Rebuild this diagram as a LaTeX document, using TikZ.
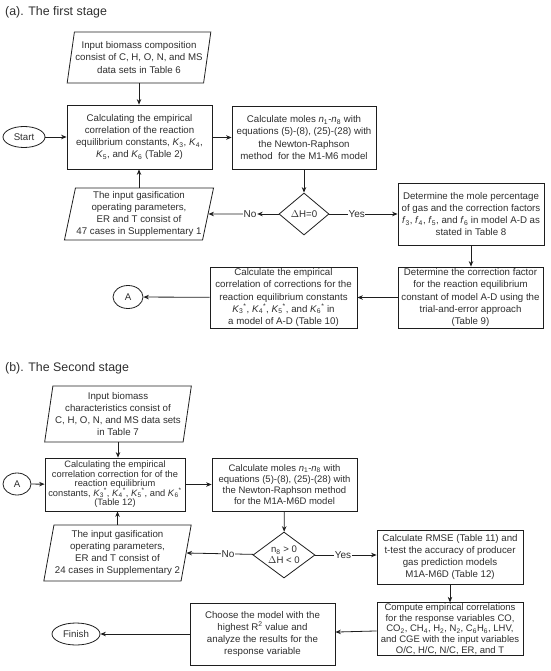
\documentclass[tikz,border=0pt]{standalone}
\usepackage{fontspec}
\setmainfont{Liberation Sans}
\usetikzlibrary{shapes.geometric,arrows.meta}
\definecolor{txt}{HTML}{2E2E2E}
\definecolor{ln}{HTML}{1E1E1E}
\newcommand\Kc[1]{\textit{K}\textsubscript{#1}}
\newcommand\Ks[1]{\textit{K}\textsubscript{#1}\textsuperscript{*}}
\newcommand\fsub[1]{\textit{f}\textsubscript{#1}}
\begin{document}
\begin{tikzpicture}[x=1pt,y=-1pt,
  every node/.style={font=\fontsize{9.7}{12.2}\selectfont, text=txt, align=center, inner sep=1pt},
  sz/.style 2 args={minimum width=#1pt, minimum height=#2pt},
  box/.style={draw=ln, line width=0.8pt, rectangle},
  para/.style={draw=ln, line width=0.8pt, trapezium, trapezium stretches=true, trapezium left angle=#1, trapezium right angle=180-#1},
  term/.style={draw=ln, line width=0.8pt, ellipse, inner sep=0pt},
  dec/.style={draw=ln, line width=0.8pt, diamond, inner sep=0pt},
  arr/.style={draw=ln, line width=0.8pt, -{Stealth[length=5.5pt,width=4.5pt]}},
  lbl/.style={fill=white, inner sep=0.6pt, font=\fontsize{10}{12}\selectfont},
  ttl/.style={font=\fontsize{12.4}{14}\selectfont, anchor=west, inner sep=0pt, text=txt}]
\useasboundingbox (0,0) rectangle (550,671);

% ---------------- Stage (a) ----------------
\node[ttl] (ta) at (5,12) {(a). The first stage};

\node[para=77.8, sz={144}{51}] (pa1) at (139,57.5) {Input biomass composition\\consist of C, H, O, N, and MS\\data sets in Table 6};
\node[box, sz={145}{64}] (ba1) at (139.5,137) {Calculating the empirical\\correlation of the reaction\\equilibrium constants, \Kc{3}, \Kc{4},\\\Kc{5}, and \Kc{6} (Table 2)};
\node[term, sz={42}{21}] (start) at (24,137) {Start};
\node[box, sz={144}{63}] (ba2) at (304,137.5) {Calculate moles \textit{n}\textsubscript{1}-\textit{n}\textsubscript{8} with\\equations (5)-(8), (25)-(28) with\\the Newton-Raphson\\method\ \ for the M1-M6 model};
\node[dec, sz={50}{42}] (da) at (304,214) {$\Delta$H=0};
\node[box, sz={146}{62}] (ra1) at (471,214) {Determine the mole percentage\\of gas and the correction factors\\\fsub{3}, \fsub{4}, \fsub{5}, and \fsub{6} in model A-D as\\stated in Table 8};
\node[para=77, sz={146}{52}] (pa2) at (139,214) {The input gasification\\operating parameters,\\ER and T consist of\\47 cases in Supplementary 1};
\node[lbl] (noa) at (250,214) {No};
\node[box, sz={145}{61}] (ra2) at (470.5,297.5) {Determine the correction factor\\for the reaction equilibrium\\constant of model A-D using the\\trial-and-error approach\\(Table 9)};
\node[box, sz={147}{61}] (ca) at (283.5,297.5) {Calculate the empirical\\correlation of corrections for the\\reaction equilibrium constants\\\Ks{3}, \Ks{4}, \Ks{5}, and \Ks{6} in\\a model of A-D (Table 10)};
\node[term, sz={30}{23}] (aa) at (128,297) {A};

\draw[arr] (pa1.south) -- (pa1.south |- ba1.north);
\draw[arr] (start) -- (ba1);
\draw[arr] (ba1.east |- ba2.west) -- (ba2.west);
\draw[arr] (ba2) -- (da);
\draw[arr] (da) -- (noa);
\draw[arr] (noa) -- (pa2.east);
\draw[arr] (da) -- node[lbl, pos=0.4] {Yes} (ra1);
\draw[arr] (pa2.north) -- (pa2.north |- ba1.south);
\draw[arr] (ra1.south) -- (ra1.south |- ra2.north);
\draw[arr] (ra2) -- (ca);
\draw[arr] (ca) -- (aa);

% ---------------- Stage (b) ----------------
\node[ttl] (tb) at (5,368) {(b). The Second stage};

\node[para=80, sz={147}{56}] (pb1) at (118,414) {Input biomass\\characteristics consist of\\C, H, O, N, and MS data sets\\in Table 7};
\node[box, sz={140}{53}, font=\fontsize{9.3}{9.5}\selectfont] (bb1) at (115,484.5) {Calculating the empirical\\correlation correction for of the\\reaction equilibrium\\\smash{constants, \Ks{3}, \Ks{4}, \Ks{5}, and \Ks{6}}\\(Table 12)};
\node[term, sz={28}{22}] (ab) at (17,484) {A};
\node[box, sz={145}{53}, font=\fontsize{9.5}{11.2}\selectfont] (bb2) at (284.5,484.5) {Calculate moles \textit{n}\textsubscript{1}-\textit{n}\textsubscript{8} with\\equations (5)-(8), (25)-(28) with\\the Newton-Raphson method\\for the M1A-M6D model};
\node[dec, sz={62}{46}, aspect=1.35, font=\fontsize{9.6}{11}\selectfont] (db) at (284,555) {n\textsubscript{8} > 0\\$\Delta$H < 0};
\node[box, sz={146}{54}] (rb1) at (450,557) {Calculate RMSE (Table 11) and\\t-test the accuracy of producer\\gas prediction models\\M1A-M6D (Table 12)};
\node[para=78, sz={145}{56}] (pb2) at (117.5,553) {The input gasification\\operating parameters,\\ER and T consist of\\24 cases in Supplementary 2};
\node[box, sz={146}{52}, font=\fontsize{9.5}{10.6}\selectfont] (rb2) at (450,629) {Compute empirical correlations\\for the response variables CO,\\CO\textsubscript{2}, CH\textsubscript{4}, H\textsubscript{2}, N\textsubscript{2}, C\textsubscript{6}H\textsubscript{6}, LHV,\\and CGE with the input variables\\O/C, H/C, N/C, ER, and T};
\node[box, sz={145}{62}] (cb) at (262.5,634) {Choose the model with the\\highest R\textsuperscript{2} value and\\analyze the results for the\\response variable};
\node[term, sz={48}{22}] (fin) at (76,634) {Finish};

\draw[arr] (pb1.south) -- (pb1.south |- bb1.north);
\draw[arr] (ab) -- (bb1);
\draw[arr] (bb1) -- (bb2);
\draw[arr] (bb2) -- (db);
\draw[arr] (db) -- node[lbl, pos=0.38] {No} (pb2.east);
\draw[arr] (db) -- node[lbl, pos=0.45] {Yes} (db.east -| rb1.west);
\draw[arr] (pb2.north) -- (pb2.north |- bb1.south);
\draw[arr] (rb1.south) -- (rb1.south |- rb2.north);
\draw[arr] (rb2) -- (cb);
\draw[arr] (cb) -- (fin);
\end{tikzpicture}
\end{document}
